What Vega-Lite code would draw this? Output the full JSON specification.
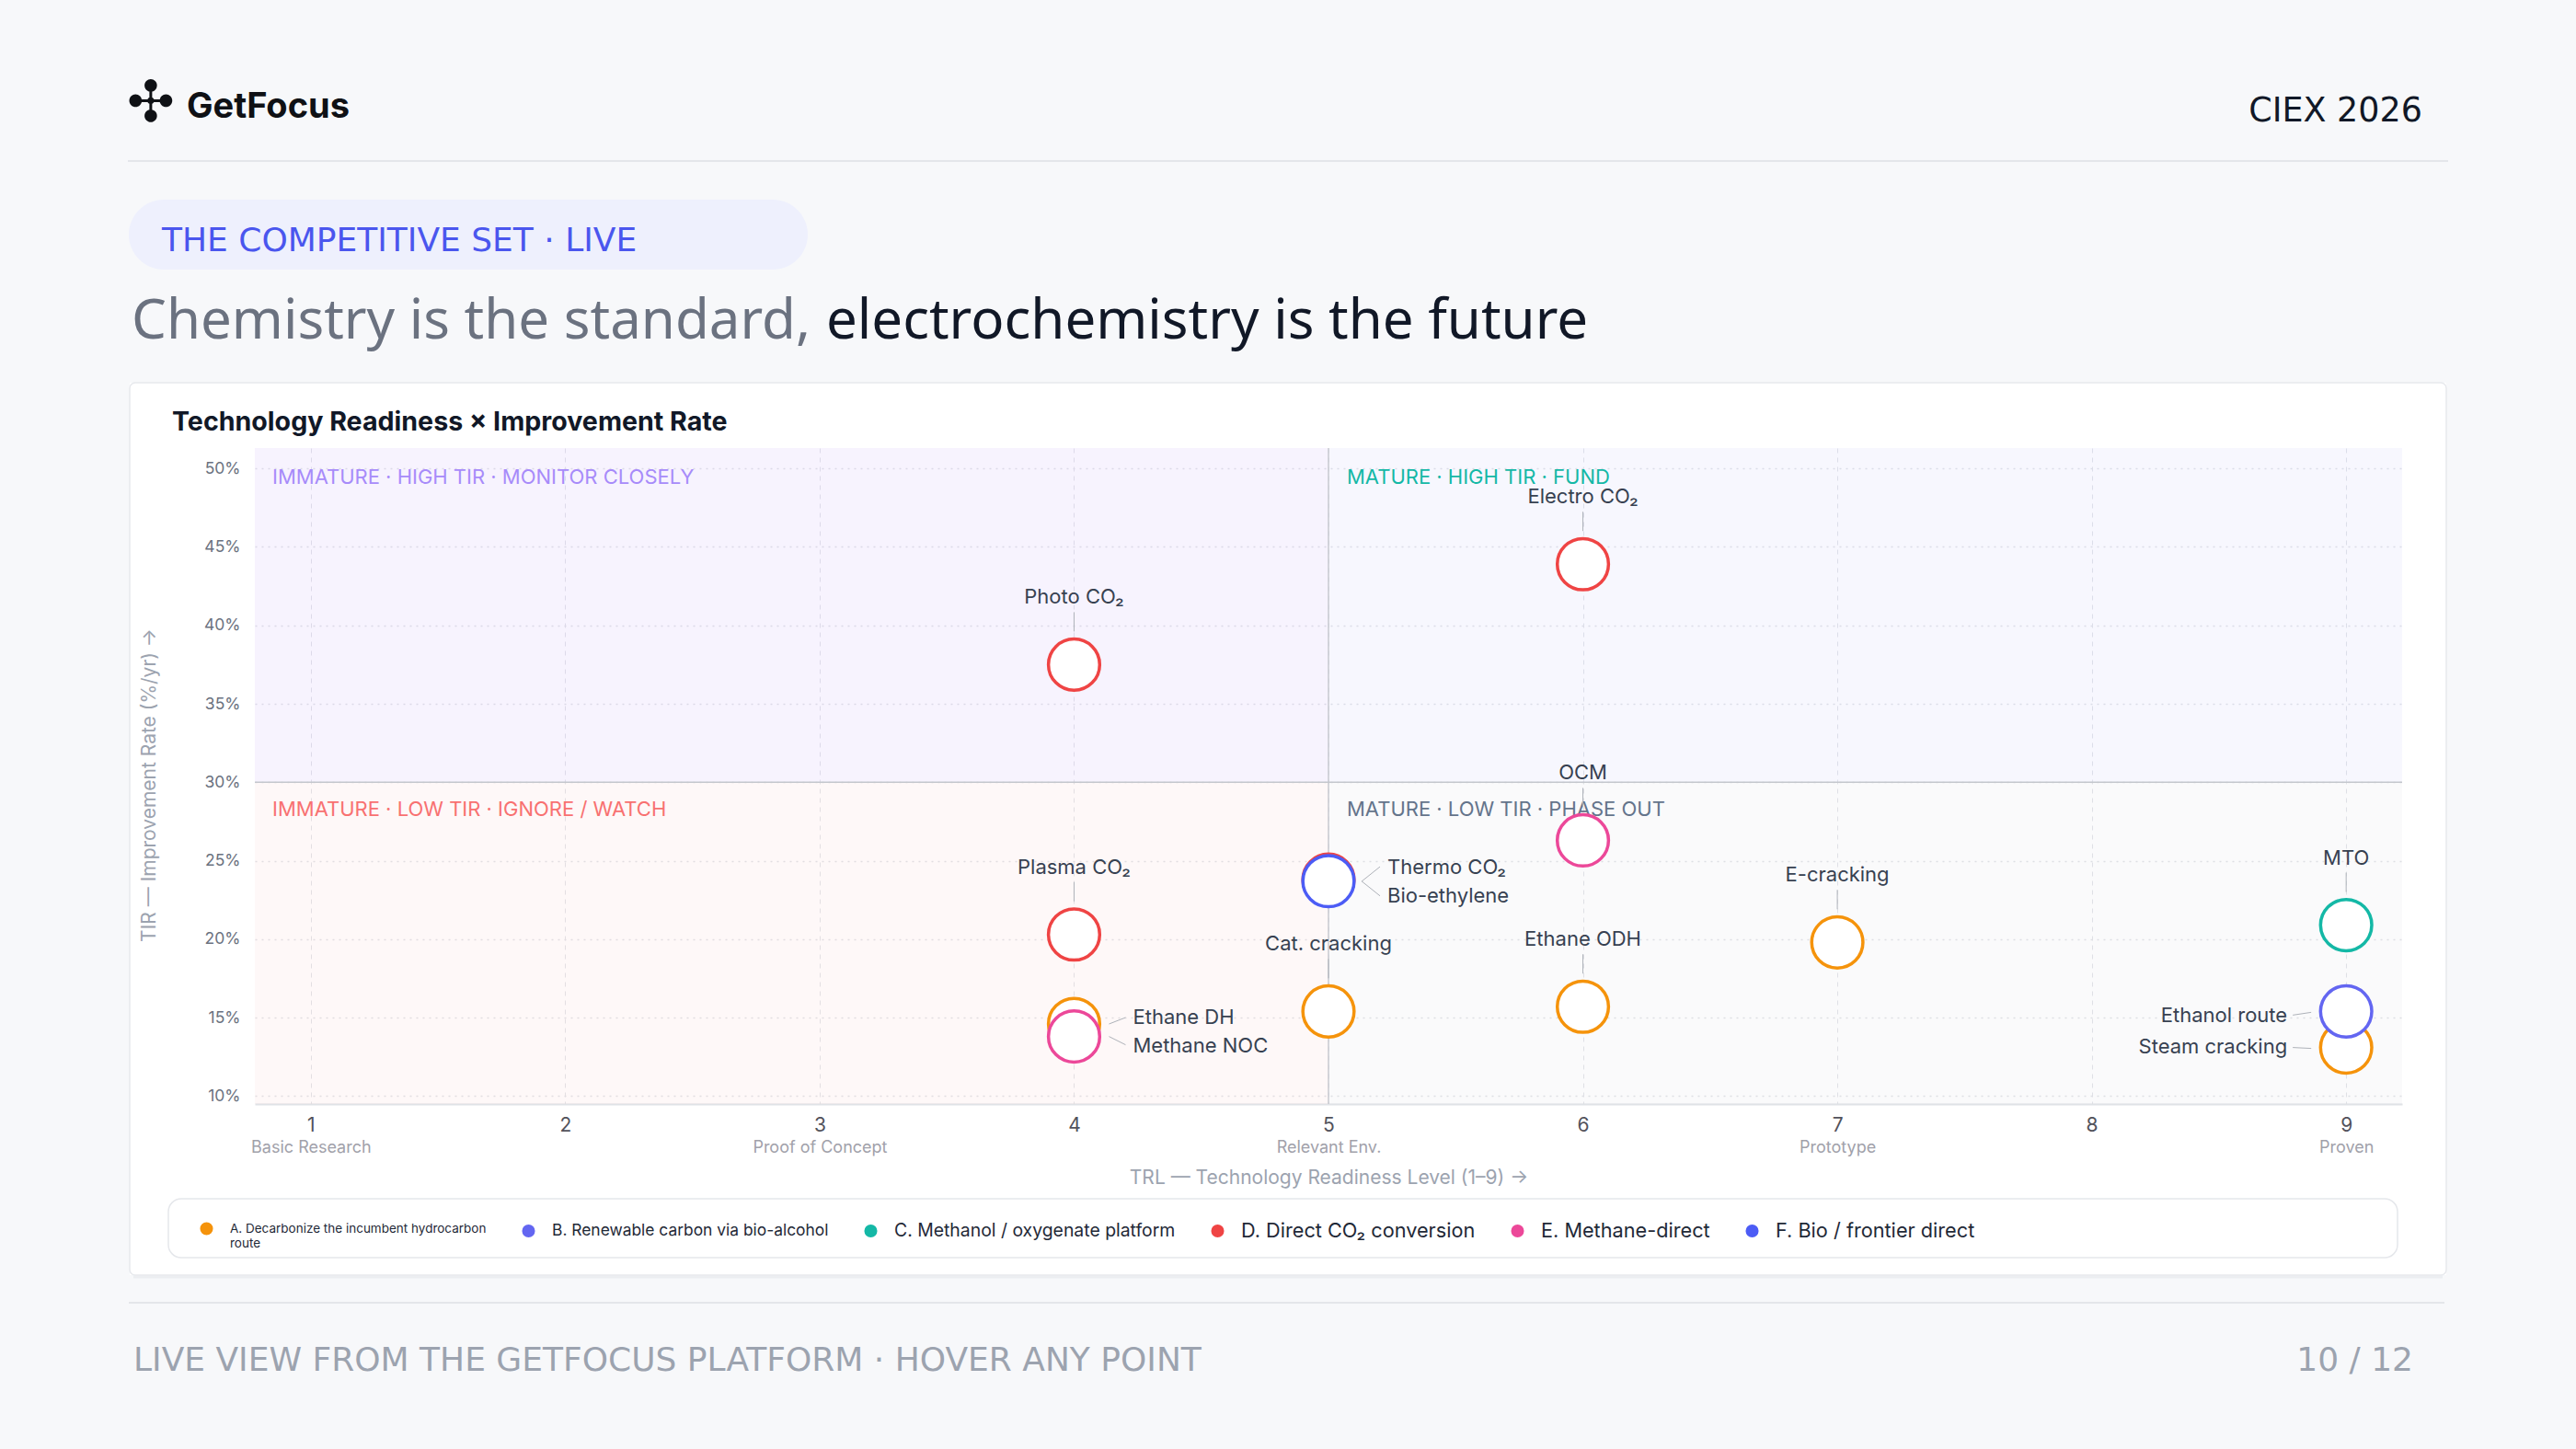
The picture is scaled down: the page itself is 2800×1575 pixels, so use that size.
{
  "$schema": "https://vega.github.io/schema/vega-lite/v6.json",
  "width": 2334,
  "height": 713,
  "autosize": {"type": "none"},
  "padding": {"left": 277, "top": 487, "right": 189, "bottom": 375},
  "background": "#ffffff",
  "config": {"view": {"stroke": null}, "font": "Inter"},
  "datasets": {
    "points": [
      {"name": "Ethane DH", "trl": 4, "tir": 14.6, "group": "A. Decarbonize the incumbent hydrocarbon route"},
      {"name": "Cat. cracking", "trl": 5, "tir": 15.4, "group": "A. Decarbonize the incumbent hydrocarbon route"},
      {"name": "Ethane ODH", "trl": 6, "tir": 15.7, "group": "A. Decarbonize the incumbent hydrocarbon route"},
      {"name": "E-cracking", "trl": 7, "tir": 19.8, "group": "A. Decarbonize the incumbent hydrocarbon route"},
      {"name": "Steam cracking", "trl": 9, "tir": 13.1, "group": "A. Decarbonize the incumbent hydrocarbon route"},
      {"name": "Ethanol route", "trl": 9, "tir": 15.4, "group": "B. Renewable carbon via bio-alcohol"},
      {"name": "MTO", "trl": 9, "tir": 20.9, "group": "C. Methanol / oxygenate platform"},
      {"name": "Electro CO₂", "trl": 6, "tir": 43.9, "group": "D. Direct CO₂ conversion"},
      {"name": "Photo CO₂", "trl": 4, "tir": 37.5, "group": "D. Direct CO₂ conversion"},
      {"name": "Thermo CO₂", "trl": 5, "tir": 23.8, "group": "D. Direct CO₂ conversion"},
      {"name": "Plasma CO₂", "trl": 4, "tir": 20.3, "group": "D. Direct CO₂ conversion"},
      {"name": "OCM", "trl": 6, "tir": 26.3, "group": "E. Methane-direct"},
      {"name": "Methane NOC", "trl": 4, "tir": 13.8, "group": "E. Methane-direct"},
      {"name": "Bio-ethylene", "trl": 5, "tir": 23.7, "group": "F. Bio / frontier direct"}
    ]
  },
  "data": {"name": "points"},
  "layer": [
    {"data": {"values": [{}]}, "mark": {"type": "rect", "fill": "#f7f8fa"},
     "encoding": {"x": {"value": -277}, "x2": {"value": 2523}, "y": {"value": -487}, "y2": {"value": -71}}},
    {"data": {"values": [{}]}, "mark": {"type": "rect", "fill": "#f7f8fa"},
     "encoding": {"x": {"value": -277}, "x2": {"value": 2523}, "y": {"value": 899}, "y2": {"value": 1088}}},
    {"data": {"values": [{}]}, "mark": {"type": "rect", "fill": "#f7f8fa"},
     "encoding": {"x": {"value": -277}, "x2": {"value": -136}, "y": {"value": -71}, "y2": {"value": 899}}},
    {"data": {"values": [{}]}, "mark": {"type": "rect", "fill": "#f7f8fa"},
     "encoding": {"x": {"value": 2382}, "x2": {"value": 2523}, "y": {"value": -71}, "y2": {"value": 899}}},
    {"data": {"values": [{}]}, "mark": {"type": "rule", "color": "#eceef1", "strokeWidth": 3},
     "encoding": {"x": {"value": -132}, "x2": {"value": 2378}, "y": {"value": 901}}},
    {"data": {"values": [{}]}, "mark": {"type": "rect", "fill": null, "stroke": "#e7e9ed", "strokeWidth": 1.5, "cornerRadius": 6},
     "encoding": {"x": {"value": -136}, "x2": {"value": 2382}, "y": {"value": -71}, "y2": {"value": 899}}},
    {"data": {"values": [{}]}, "mark": {"type": "rect", "fill": "#ffffff", "stroke": "#e5e7eb", "strokeWidth": 1.5, "cornerRadius": 14},
     "encoding": {"x": {"value": -94}, "x2": {"value": 2329}, "y": {"value": 816}, "y2": {"value": 880}}},
    {"data": {"values": [{}]}, "mark": {"type": "rule", "color": "#e4e6ea", "strokeWidth": 2},
     "encoding": {"x": {"value": -138}, "x2": {"value": 2384}, "y": {"value": -312}}},
    {"data": {"values": [{}]}, "mark": {"type": "rule", "color": "#e4e6ea", "strokeWidth": 2},
     "encoding": {"x": {"value": -137}, "x2": {"value": 2380}, "y": {"value": 929}}},
    {"data": {"values": [{}]}, "mark": {"type": "rect", "fill": "#eef0fd", "cornerRadius": 38},
     "encoding": {"x": {"value": -137}, "x2": {"value": 601}, "y": {"value": -270}, "y2": {"value": -194}}},
    {"data": {"values": [{}]}, "mark": {"type": "text", "text": "✣", "font": "DejaVu Sans", "fontSize": 62, "color": "#0f1115", "align": "center", "baseline": "middle"},
     "encoding": {"x": {"value": -113}, "y": {"value": -374}}},
    {"data": {"values": [{}]}, "mark": {"type": "text", "text": "GetFocus", "font": "Inter", "fontWeight": 700, "fontSize": 38, "color": "#0f1115", "align": "left", "baseline": "alphabetic"},
     "encoding": {"x": {"value": -74}, "y": {"value": -359}}},
    {"data": {"values": [{}]}, "mark": {"type": "text", "text": "CIEX 2026", "font": "DejaVu Sans", "fontSize": 36.5, "color": "#111827", "align": "right", "baseline": "alphabetic"},
     "encoding": {"x": {"value": 2356}, "y": {"value": -355}}},
    {"data": {"values": [{}]}, "mark": {"type": "text", "text": "THE COMPETITIVE SET · LIVE", "font": "DejaVu Sans", "fontSize": 36, "color": "#4a56ee", "align": "left", "baseline": "alphabetic"},
     "encoding": {"x": {"value": -101}, "y": {"value": -214}}},
    {"data": {"values": [{}]}, "mark": {"type": "text", "text": "Chemistry is the standard,", "font": "Noto Sans", "fontSize": 60, "color": "#6b7280", "align": "left", "baseline": "alphabetic"},
     "encoding": {"x": {"value": -134}, "y": {"value": -119}}},
    {"data": {"values": [{}]}, "mark": {"type": "text", "text": "electrochemistry is the future", "font": "Noto Sans", "fontSize": 60, "color": "#111827", "align": "left", "baseline": "alphabetic"},
     "encoding": {"x": {"value": 621}, "y": {"value": -119}}},
    {"data": {"values": [{}]}, "mark": {"type": "text", "text": "Technology Readiness × Improvement Rate", "font": "Inter", "fontWeight": 700, "fontSize": 28.6, "color": "#111827", "align": "left", "baseline": "alphabetic"},
     "encoding": {"x": {"value": -90}, "y": {"value": -19}}},
    {"data": {"values": [{}]}, "mark": {"type": "text", "text": "LIVE VIEW FROM THE GETFOCUS PLATFORM · HOVER ANY POINT", "font": "DejaVu Sans", "fontSize": 36, "color": "#9ca3af", "align": "left", "baseline": "alphabetic"},
     "encoding": {"x": {"value": -132}, "y": {"value": 1003}}},
    {"data": {"values": [{}]}, "mark": {"type": "text", "text": "10 / 12", "font": "DejaVu Sans", "fontSize": 36, "color": "#9ca3af", "align": "right", "baseline": "alphabetic"},
     "encoding": {"x": {"value": 2346}, "y": {"value": 1003}}},

    {"data": {"values": [{}]}, "mark": {"type": "rect", "color": "#8b5cf6", "opacity": 0.07},
     "encoding": {"x": {"datum": 0.78, "type": "quantitative", "axis": null}, "x2": {"datum": 5}, "y": {"datum": 30, "type": "quantitative"}, "y2": {"datum": 51.3}}},
    {"data": {"values": [{}]}, "mark": {"type": "rect", "color": "#6366f1", "opacity": 0.05},
     "encoding": {"x": {"datum": 5, "type": "quantitative", "axis": null}, "x2": {"datum": 9.22}, "y": {"datum": 30, "type": "quantitative"}, "y2": {"datum": 51.3}}},
    {"data": {"values": [{}]}, "mark": {"type": "rect", "color": "#ef4444", "opacity": 0.04},
     "encoding": {"x": {"datum": 0.78, "type": "quantitative", "axis": null}, "x2": {"datum": 5}, "y": {"datum": 9.5, "type": "quantitative"}, "y2": {"datum": 30}}},
    {"data": {"values": [{}]}, "mark": {"type": "rect", "color": "#64748b", "opacity": 0.035},
     "encoding": {"x": {"datum": 5, "type": "quantitative", "axis": null}, "x2": {"datum": 9.22}, "y": {"datum": 9.5, "type": "quantitative"}, "y2": {"datum": 30}}},
    {"data": {"values": [{}]}, "mark": {"type": "rule", "color": "#c8cad0", "strokeWidth": 1.5},
     "encoding": {"x": {"datum": 5, "type": "quantitative", "axis": null}}},
    {"data": {"values": [{}]}, "mark": {"type": "rule", "color": "#c4c7cd", "strokeWidth": 1.5},
     "encoding": {"y": {"datum": 30, "type": "quantitative"}}},
    {"data": {"values": [{}]}, "mark": {"type": "text", "text": "IMMATURE · HIGH TIR · MONITOR CLOSELY", "font": "Inter", "fontSize": 22, "color": "#a78bfa", "align": "left", "baseline": "alphabetic", "dx": 19, "dy": 39},
     "encoding": {"x": {"datum": 0.78, "type": "quantitative", "axis": null}, "y": {"datum": 51.3, "type": "quantitative"}}},
    {"data": {"values": [{}]}, "mark": {"type": "text", "text": "MATURE · HIGH TIR · FUND", "font": "Inter", "fontSize": 22, "color": "#14b8a6", "align": "left", "baseline": "alphabetic", "dx": 20, "dy": 39},
     "encoding": {"x": {"datum": 5, "type": "quantitative", "axis": null}, "y": {"datum": 51.3, "type": "quantitative"}}},
    {"data": {"values": [{}]}, "mark": {"type": "text", "text": "IMMATURE · LOW TIR · IGNORE / WATCH", "font": "Inter", "fontSize": 22, "color": "#f87171", "align": "left", "baseline": "alphabetic", "dx": 19, "dy": 37},
     "encoding": {"x": {"datum": 0.78, "type": "quantitative", "axis": null}, "y": {"datum": 30, "type": "quantitative"}}},
    {"data": {"values": [{}]}, "mark": {"type": "text", "text": "MATURE · LOW TIR · PHASE OUT", "font": "Inter", "fontSize": 22, "color": "#64748b", "align": "left", "baseline": "alphabetic", "dx": 20, "dy": 37},
     "encoding": {"x": {"datum": 5, "type": "quantitative", "axis": null}, "y": {"datum": 30, "type": "quantitative"}}},

    {"transform": [{"filter": {"field": "name", "oneOf": ["Electro CO₂", "Photo CO₂", "OCM", "Plasma CO₂", "Cat. cracking", "Ethane ODH", "E-cracking", "MTO"]}}],
     "layer": [
       {"mark": {"type": "rule", "color": "#aeb2b9", "strokeWidth": 1, "yOffset": -36, "y2Offset": -57},
        "encoding": {"x": {"field": "trl", "type": "quantitative", "axis": null}, "y": {"field": "tir", "type": "quantitative"}, "y2": {"field": "tir"}}},
       {"mark": {"type": "text", "font": "Inter", "fontSize": 22, "color": "#374151", "baseline": "middle", "align": "center", "dy": -73},
        "encoding": {"x": {"field": "trl", "type": "quantitative", "axis": null}, "y": {"field": "tir", "type": "quantitative"}, "text": {"field": "name"}}}
     ]},
    {"transform": [{"filter": {"field": "name", "equal": "Thermo CO₂"}}],
     "layer": [
       {"mark": {"type": "rule", "color": "#aeb2b9", "strokeWidth": 1, "xOffset": 36, "x2Offset": 56, "yOffset": 2, "y2Offset": -14},
        "encoding": {"x": {"field": "trl", "type": "quantitative", "axis": null}, "x2": {"field": "trl"}, "y": {"field": "tir", "type": "quantitative"}, "y2": {"field": "tir"}}},
       {"mark": {"type": "text", "font": "Inter", "fontSize": 22, "color": "#374151", "baseline": "middle", "align": "left", "dx": 64, "dy": -13},
        "encoding": {"x": {"field": "trl", "type": "quantitative", "axis": null}, "y": {"field": "tir", "type": "quantitative"}, "text": {"field": "name"}}}
     ]},
    {"transform": [{"filter": {"field": "name", "equal": "Bio-ethylene"}}],
     "layer": [
       {"mark": {"type": "rule", "color": "#aeb2b9", "strokeWidth": 1, "xOffset": 36, "x2Offset": 56, "yOffset": 0, "y2Offset": 16},
        "encoding": {"x": {"field": "trl", "type": "quantitative", "axis": null}, "x2": {"field": "trl"}, "y": {"field": "tir", "type": "quantitative"}, "y2": {"field": "tir"}}},
       {"mark": {"type": "text", "font": "Inter", "fontSize": 22, "color": "#374151", "baseline": "middle", "align": "left", "dx": 64, "dy": 16},
        "encoding": {"x": {"field": "trl", "type": "quantitative", "axis": null}, "y": {"field": "tir", "type": "quantitative"}, "text": {"field": "name"}}}
     ]},
    {"transform": [{"filter": {"field": "name", "equal": "Ethane DH"}}],
     "layer": [
       {"mark": {"type": "rule", "color": "#aeb2b9", "strokeWidth": 1, "xOffset": 38, "x2Offset": 56, "yOffset": 0, "y2Offset": -7},
        "encoding": {"x": {"field": "trl", "type": "quantitative", "axis": null}, "x2": {"field": "trl"}, "y": {"field": "tir", "type": "quantitative"}, "y2": {"field": "tir"}}},
       {"mark": {"type": "text", "font": "Inter", "fontSize": 22, "color": "#374151", "baseline": "middle", "align": "left", "dx": 64, "dy": -7},
        "encoding": {"x": {"field": "trl", "type": "quantitative", "axis": null}, "y": {"field": "tir", "type": "quantitative"}, "text": {"field": "name"}}}
     ]},
    {"transform": [{"filter": {"field": "name", "equal": "Methane NOC"}}],
     "layer": [
       {"mark": {"type": "rule", "color": "#aeb2b9", "strokeWidth": 1, "xOffset": 38, "x2Offset": 56, "yOffset": 0, "y2Offset": 9},
        "encoding": {"x": {"field": "trl", "type": "quantitative", "axis": null}, "x2": {"field": "trl"}, "y": {"field": "tir", "type": "quantitative"}, "y2": {"field": "tir"}}},
       {"mark": {"type": "text", "font": "Inter", "fontSize": 22, "color": "#374151", "baseline": "middle", "align": "left", "dx": 64, "dy": 10},
        "encoding": {"x": {"field": "trl", "type": "quantitative", "axis": null}, "y": {"field": "tir", "type": "quantitative"}, "text": {"field": "name"}}}
     ]},
    {"transform": [{"filter": {"field": "name", "equal": "Ethanol route"}}],
     "layer": [
       {"mark": {"type": "rule", "color": "#aeb2b9", "strokeWidth": 1, "xOffset": -38, "x2Offset": -58, "yOffset": 1, "y2Offset": 4},
        "encoding": {"x": {"field": "trl", "type": "quantitative", "axis": null}, "x2": {"field": "trl"}, "y": {"field": "tir", "type": "quantitative"}, "y2": {"field": "tir"}}},
       {"mark": {"type": "text", "font": "Inter", "fontSize": 22, "color": "#374151", "baseline": "middle", "align": "right", "dx": -64, "dy": 5},
        "encoding": {"x": {"field": "trl", "type": "quantitative", "axis": null}, "y": {"field": "tir", "type": "quantitative"}, "text": {"field": "name"}}}
     ]},
    {"transform": [{"filter": {"field": "name", "equal": "Steam cracking"}}],
     "layer": [
       {"mark": {"type": "rule", "color": "#aeb2b9", "strokeWidth": 1, "xOffset": -38, "x2Offset": -58, "yOffset": 1, "y2Offset": 0},
        "encoding": {"x": {"field": "trl", "type": "quantitative", "axis": null}, "x2": {"field": "trl"}, "y": {"field": "tir", "type": "quantitative"}, "y2": {"field": "tir"}}},
       {"mark": {"type": "text", "font": "Inter", "fontSize": 22, "color": "#374151", "baseline": "middle", "align": "right", "dx": -64, "dy": -1},
        "encoding": {"x": {"field": "trl", "type": "quantitative", "axis": null}, "y": {"field": "tir", "type": "quantitative"}, "text": {"field": "name"}}}
     ]},

    {"mark": {"type": "circle", "size": 3100, "fill": "#ffffff", "fillOpacity": 1, "opacity": 1, "strokeWidth": 3.5},
     "encoding": {
       "x": {"field": "trl", "type": "quantitative", "title": "TRL",
             "scale": {"domain": [0.78, 9.22], "nice": false, "zero": false},
             "axis": {"orient": "bottom", "values": [1, 2, 3, 4, 5, 6, 7, 8, 9], "title": null, "grid": true, "gridDash": [5, 5], "gridColor": "#e3e5e9", "gridWidth": 1,
                      "ticks": false, "tickSize": 0, "domain": true, "domainColor": "#dfe2e6", "domainWidth": 2,
                      "labelFont": "Inter", "labelFontSize": 21, "labelColor": "#52525b", "labelPadding": 23, "labelBaseline": "middle", "labelFlush": false, "labelOverlap": false}},
       "y": {"field": "tir", "type": "quantitative", "title": "TIR",
             "scale": {"domain": [9.5, 51.3], "nice": false, "zero": false},
             "axis": {"values": [10, 15, 20, 25, 30, 35, 40, 45, 50], "labelExpr": "datum.value + '%'",
                      "title": "TIR — Improvement Rate (%/yr) →", "titleFont": "Inter", "titleFontSize": 21, "titleFontWeight": 400, "titleColor": "#9ca3af",
                      "titleX": -115, "titleY": 366, "titleAngle": 270, "titleAlign": "center", "titleBaseline": "middle",
                      "grid": true, "gridDash": [2, 5], "gridColor": "#e1e3e8", "gridWidth": 1.5, "domain": false, "ticks": false, "tickSize": 0,
                      "labelFont": "Inter", "labelFontSize": 17.5, "labelColor": "#6b7280", "labelPadding": 16}},
       "stroke": {"field": "group", "type": "nominal",
                  "scale": {"domain": ["A. Decarbonize the incumbent hydrocarbon route", "B. Renewable carbon via bio-alcohol", "C. Methanol / oxygenate platform", "D. Direct CO₂ conversion", "E. Methane-direct", "F. Bio / frontier direct"],
                            "range": ["#f5930b", "#6366f1", "#14b8a6", "#ef4444", "#ec4899", "#4c5cf5"]},
                  "legend": {"orient": "none", "legendX": -60, "legendY": 841, "direction": "horizontal", "title": null,
                             "symbolType": "circle", "symbolSize": 50, "symbolStrokeWidth": 7,
                             "labelFont": "Inter", "labelFontSize": 21.7, "labelColor": "#1f2937", "labelOffset": 18, "labelLimit": 600,
                             "columnPadding": 27, "padding": 0,
                             "labelExpr": "datum.value == 'A. Decarbonize the incumbent hydrocarbon route' ? ['A. Decarbonize the incumbent hydrocarbon', 'route'] : datum.value",
                             "encoding": {
                               "labels": {
                                 "fontSize": {"condition": [
                                   {"test": "datum.value == 'A. Decarbonize the incumbent hydrocarbon route'", "value": 13.5},
                                   {"test": "datum.value == 'B. Renewable carbon via bio-alcohol'", "value": 17.4},
                                   {"test": "datum.value == 'C. Methanol / oxygenate platform'", "value": 19.4}
                                 ], "value": 21.7},
                                 "lineHeight": {"value": 16}
                               },
                               "symbols": {"fill": {"value": {"expr": "scale('stroke', datum.value)"}}}
                             }}}
     }},
    {"mark": {"type": "point", "opacity": 0},
     "encoding": {
       "x": {"field": "trl", "type": "quantitative",
             "axis": {"orient": "bottom", "values": [1, 3, 5, 7, 9],
                      "labelExpr": "datum.value == 1 ? 'Basic Research' : datum.value == 3 ? 'Proof of Concept' : datum.value == 5 ? 'Relevant Env.' : datum.value == 7 ? 'Prototype' : 'Proven'",
                      "title": "TRL — Technology Readiness Level (1–9) →", "titleFont": "Inter", "titleFontSize": 21, "titleFontWeight": 400, "titleColor": "#9ca3af",
                      "titleX": 1167, "titleY": 80, "titleAlign": "center", "titleBaseline": "middle",
                      "grid": false, "domain": false, "ticks": false, "tickSize": 0,
                      "labelFont": "Inter", "labelFontSize": 18, "labelColor": "#a1a1aa", "labelPadding": 47, "labelBaseline": "middle", "labelFlush": false, "labelOverlap": false}},
       "y": {"field": "tir", "type": "quantitative"}
     }}
  ],
  "resolve": {"axis": {"x": "independent"}}
}
